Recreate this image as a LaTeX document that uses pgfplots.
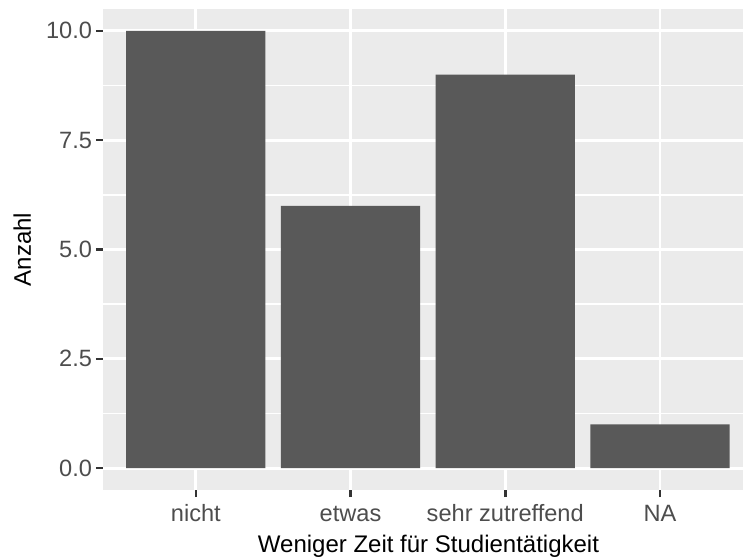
\documentclass[border=0pt]{standalone}
\usepackage{pgfplots}
\pgfplotsset{compat=1.18}
\usepackage{fontspec}
\setmainfont{Liberation Sans}
\definecolor{panelbg}{HTML}{EBEBEB}
\definecolor{barfill}{HTML}{595959}
\definecolor{ticklab}{HTML}{4D4D4D}
\definecolor{tickcol}{HTML}{333333}
\begin{document}
\begin{tikzpicture}
\useasboundingbox (-51.5pt,-34.5pt) rectangle (320pt,245pt);
\begin{axis}[
  scale only axis,
  width=320pt, height=240.5pt,
  xmin=0.4, xmax=4.537,
  ymin=-0.5, ymax=10.5,
  axis line style={draw=none},
  axis background/.style={fill=panelbg},
  xtick={1,2,3,4},
  xticklabels={nicht,etwas,sehr zutreffend,NA},
  ytick={0,2.5,5,7.5,10},
  minor ytick={1.25,3.75,6.25,8.75},
  minor tick length=0pt,
  major tick length=3.5pt,
  tick align=outside,
  tick pos=left,
  major tick style={color=tickcol, line width=1.3pt},
  xmajorgrids, ymajorgrids, yminorgrids,
  major grid style={white, line width=1.4pt},
  minor grid style={white, line width=0.7pt},
  /pgf/number format/assume math mode=true,
  yticklabel={\pgfmathprintnumber[fixed,fixed zerofill,precision=1]{\tick}},
  ticklabel style={font=\fontsize{11.8pt}{14pt}\selectfont, text=ticklab},
  yticklabel style={anchor=east, inner sep=0pt, xshift=-1.8pt},
  xticklabel style={anchor=base, inner sep=0pt, yshift=-12pt},
  xlabel={Weniger Zeit für Studientätigkeit},
  ylabel={Anzahl},
  label style={font=\fontsize{12pt}{14pt}\selectfont, text=black},
  xlabel style={at={(axis description cs:0.5086,0)}, anchor=base, inner sep=0pt, yshift=-31pt},
  ylabel style={at={(axis description cs:0,0.5)}, anchor=base, inner sep=0pt, yshift=36pt},
]
\addplot[ybar, bar width=0.9, bar shift=0pt, fill=barfill, draw=none] coordinates {(1,10) (2,6) (3,9) (4,1)};
\end{axis}
\end{tikzpicture}
\end{document}
